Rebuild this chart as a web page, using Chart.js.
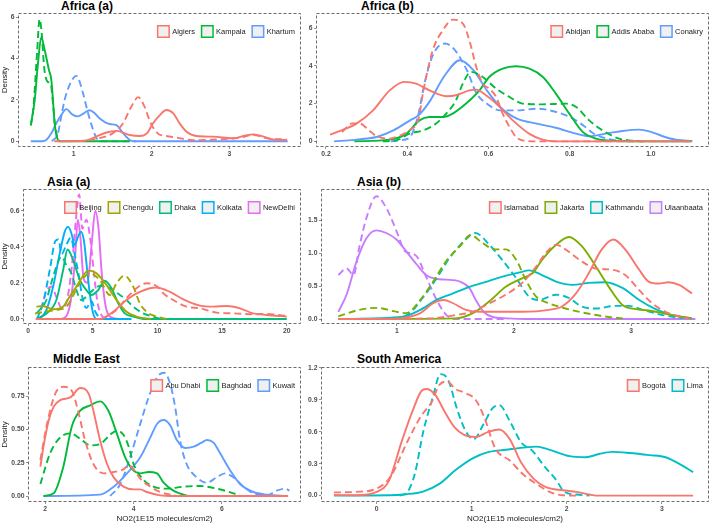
<!DOCTYPE html>
<html>
<head>
<meta charset="utf-8">
<title>NO2 density by city</title>
<script src="https://cdn.jsdelivr.net/npm/chart.js@4.4.1/dist/chart.umd.min.js"></script>
<style>
  body { margin: 0; background: #fff; }
  #stage { position: relative; width: 712px; height: 524px; overflow: hidden; font-family: "Liberation Sans", Arial, sans-serif; }
  #stage canvas { position: absolute; }
  .ttl { position: absolute; font-weight: bold; font-size: 12px; line-height: 12px; color: #000; white-space: nowrap; }
</style>
</head>
<body>
<div id="stage"></div>
<script>
// ---- Africa (a) ----
const africaACities = ["Algiers", "Kampala", "Khartum"];
const algiersSolid = [[0.75,0],[1.1,0.01],[1.2,0.08],[1.29,0.22],[1.42,0.42],[1.55,0.5],[1.72,0.3],[1.85,0.25],[1.94,0.38],[2.02,0.87],[2.11,1.27],[2.19,1.51],[2.28,1.35],[2.36,0.87],[2.45,0.46],[2.58,0.25],[2.79,0.22],[3.05,0.14],[3.18,0.25],[3.31,0.33],[3.44,0.22],[3.56,0.08],[3.74,0.06]];
const algiersDashed = [[1.05,0],[1.2,0.05],[1.335,0.15],[1.5,0.38],[1.635,0.87],[1.74,1.67],[1.83,2.13],[1.91,1.67],[1.99,0.87],[2.08,0.38],[2.19,0.25],[2.32,0.18],[2.53,0.05],[2.84,0.08],[3.14,0.18],[3.31,0.3],[3.48,0.14],[3.74,0.08]];
const kampalaSolid = [[0.45,0.8],[0.5,2.0],[0.54,3.7],[0.584,5.03],[0.627,4.42],[0.682,3.45],[0.713,2.97],[0.734,2.0],[0.755,0.87],[0.785,0.22],[0.811,0],[1.72,0]];
const kampalaDashed = [[0.45,0.75],[0.48,1.5],[0.5,2.5],[0.53,4.3],[0.562,5.9],[0.59,5.2],[0.62,3.6],[0.66,2.9],[0.708,2.72],[0.73,2.0],[0.76,0.8],[0.79,0.15],[0.82,0]];
const khartumSolid = [[0.45,0],[0.6,0],[0.648,0.06],[0.713,0.38],[0.777,0.87],[0.841,1.27],[0.906,1.55],[0.98,1.3],[1.056,1.2],[1.13,1.35],[1.206,1.5],[1.27,1.35],[1.335,1.1],[1.463,0.83],[1.549,0.78],[1.635,0.38],[1.72,0.06],[1.76,0],[3.75,0]];
const khartumDashed = [[0.72,0],[0.798,0.38],[0.84,1.19],[0.884,2.0],[0.948,2.72],[1.035,3.16],[1.12,2.32],[1.185,1.35],[1.25,0.55],[1.292,0.15],[1.34,0],[1.8,0]];
const africaAXTicks = [1, 2, 3];
const africaAXLabels = ["1", "2", "3"];
const africaAYTicks = [0, 2, 4, 6];
const africaAYLabels = ["0", "2", "4", "6"];

// ---- Africa (b) ----
const africaBCities = ["Abidjan", "Addis Ababa", "Conakry"];
const abidjanSolid = [[0.21,0.35],[0.24,0.6],[0.275,0.94],[0.316,1.64],[0.357,2.7],[0.393,3.15],[0.422,3.06],[0.455,2.7],[0.496,2.39],[0.52,2.44],[0.553,2.7],[0.57,2.74],[0.594,2.44],[0.619,2.0],[0.66,1.11],[0.7,0.41],[0.733,0.09],[0.766,0],[1.1,0]];
const abidjanDashed = [[0.24,0.5],[0.265,0.95],[0.284,0.94],[0.305,0.6],[0.325,0.27],[0.357,0.14],[0.381,0.3],[0.407,0.6],[0.428,1.2],[0.44,2.7],[0.463,4.83],[0.488,5.89],[0.512,6.45],[0.537,6.24],[0.553,5.36],[0.57,3.94],[0.586,3.06],[0.602,2.79],[0.619,2.35],[0.635,1.47],[0.652,0.76],[0.668,0.23],[0.684,0.05],[0.717,0],[1.1,0]];
const addisSolid = [[0.27,0],[0.357,0.09],[0.398,0.41],[0.43,1.11],[0.455,1.29],[0.488,1.29],[0.512,1.47],[0.545,2.0],[0.578,2.7],[0.602,3.41],[0.635,3.85],[0.668,3.98],[0.701,3.85],[0.734,3.41],[0.766,2.53],[0.799,1.47],[0.832,0.5],[0.865,0.14],[0.914,0.02],[1.1,0]];
const addisDashed = [[0.34,0],[0.373,0.05],[0.406,0.41],[0.439,0.58],[0.471,0.94],[0.496,1.47],[0.52,2.17],[0.537,3.06],[0.557,3.68],[0.586,3.41],[0.619,2.79],[0.652,2.35],[0.684,2.0],[0.733,1.96],[0.791,2.0],[0.816,1.82],[0.848,1.11],[0.881,0.58],[0.922,0.14],[0.947,0.05],[0.98,0]];
const conakrySolid = [[0.22,0],[0.27,0.08],[0.3,0.15],[0.325,0.23],[0.366,0.58],[0.407,1.11],[0.428,1.38],[0.457,2.17],[0.49,3.41],[0.53,4.3],[0.563,3.77],[0.596,2.7],[0.629,1.82],[0.67,1.2],[0.719,0.94],[0.766,0.72],[0.815,0.41],[0.848,0.27],[0.889,0.41],[0.93,0.55],[0.971,0.62],[0.996,0.53],[1.029,0.27],[1.061,0.09],[1.102,0.02]];
const conakryDashed = [[0.36,0],[0.38,0.05],[0.406,0.2],[0.426,1.29],[0.444,3.2],[0.465,4.65],[0.493,5.18],[0.514,4.92],[0.547,3.77],[0.571,2.53],[0.596,2.0],[0.629,1.64],[0.67,1.64],[0.719,1.73],[0.768,1.55],[0.8,1.29],[0.83,0.9],[0.86,0.4],[0.9,0.1],[0.95,0]];
const africaBXTicks = [0.2, 0.4, 0.6, 0.8, 1.0];
const africaBXLabels = ["0.2", "0.4", "0.6", "0.8", "1.0"];
const africaBYTicks = [0, 2, 4, 6];
const africaBYLabels = ["0", "2", "4", "6"];

// ---- Asia (a) ----
const asiaACities = ["Beijing", "Chengdu", "Dhaka", "Kolkata", "NewDelhi"];
const beijingSolid = [[0.6,0],[5.55,0],[6.58,0.04],[7.61,0.105],[8.64,0.15],[9.93,0.174],[10.97,0.15],[12.0,0.109],[13.29,0.074],[14.32,0.068],[15.35,0.072],[16.38,0.059],[17.4,0.031],[18.45,0.022],[20.0,0.013]];
const beijingDashed = [[0.6,0],[5.6,0],[6.06,0.013],[6.84,0.05],[7.61,0.115],[8.38,0.17],[9.16,0.198],[9.93,0.183],[10.45,0.142],[11.22,0.105],[12.25,0.068],[13.29,0.059],[14.58,0.035],[15.87,0.031],[17.4,0.026],[18.45,0.028],[20.0,0.017]];
const chengduSolid = [[0.65,0.068],[1.16,0.072],[1.94,0.054],[2.7,0.068],[3.22,0.124],[3.74,0.179],[4.51,0.262],[4.77,0.268],[5.29,0.253],[6.06,0.188],[6.84,0.105],[7.61,0.04],[8.38,0.013],[9.5,0]];
const chengduDashed = [[0.54,0.03],[1.3,0.04],[2.2,0.05],[2.97,0.068],[4.0,0.198],[4.77,0.253],[5.55,0.216],[6.32,0.133],[6.84,0.198],[7.45,0.24],[8.13,0.179],[8.64,0.087],[9.16,0.04],[9.93,0.013],[10.7,0]];
const dhakaSolid = [[0.65,0],[1.42,0.03],[2.19,0.105],[2.71,0.27],[3.05,0.385],[3.48,0.327],[4.0,0.216],[4.51,0.16],[4.9,0.133],[5.42,0.16],[5.93,0.212],[6.45,0.17],[6.97,0.087],[7.48,0.031],[8.13,0.013],[8.9,0],[20,0]];
const dhakaDashed = [[0.65,0.03],[1.42,0.105],[1.68,0.17],[2.19,0.29],[2.58,0.345],[2.95,0.3],[3.35,0.253],[3.74,0.16],[4.13,0.105],[4.51,0.124],[5.03,0.16],[5.55,0.183],[6.32,0.17],[7.1,0.133],[7.61,0.105],[8.13,0.068],[8.9,0.031],[9.67,0.013],[10.2,0]];
const kolkataSolid = [[0.9,0],[1.42,0.05],[1.94,0.18],[2.45,0.364],[2.84,0.484],[3.1,0.51],[3.35,0.475],[3.61,0.41],[3.87,0.456],[4.08,0.484],[4.31,0.438],[4.57,0.27],[4.77,0.142],[5.03,0.031],[5.29,0],[8,0]];
const kolkataDashed = [[0.7,0],[1.2,0.1],[1.7,0.28],[2.1,0.43],[2.35,0.44],[2.6,0.36],[2.9,0.4],[3.3,0.45],[3.6,0.36],[3.9,0.25],[4.2,0.12],[4.5,0.06],[4.9,0.1],[5.2,0.04],[5.6,0]];
const newDelhiSolid = [[2.6,0],[3.0,0.02],[3.3,0.1],[3.6,0.3],[3.85,0.55],[4.05,0.45],[4.3,0.22],[4.6,0.2],[4.9,0.4],[5.2,0.6],[5.45,0.5],[5.7,0.25],[6.0,0.07],[6.4,0.01],[7,0]];
const newDelhiDashed = [[1.0,0.05],[1.4,0.15],[1.8,0.18],[2.2,0.12],[2.6,0.06],[3.0,0.1],[3.4,0.3],[3.7,0.55],[3.95,0.69],[4.2,0.5],[4.5,0.55],[4.8,0.45],[5.1,0.25],[5.4,0.08],[5.8,0.01],[6.2,0]];
const asiaAXTicks = [0, 5, 10, 15, 20];
const asiaAXLabels = ["0", "5", "10", "15", "20"];
const asiaAYTicks = [0, 0.2, 0.4, 0.6];
const asiaAYLabels = ["0.0", "0.2", "0.4", "0.6"];

// ---- Asia (b) ----
const asiaBCities = ["Islamabad", "Jakarta", "Kathmandu", "Ulaanbaata"];
const islamabadSolid = [[0.5,0],[1.0,0.005],[1.1,0.03],[1.2,0.09],[1.31,0.24],[1.4,0.29],[1.48,0.24],[1.59,0.14],[1.71,0.11],[1.93,0.11],[2.07,0.11],[2.3,0.14],[2.41,0.19],[2.53,0.39],[2.64,0.7],[2.75,1.06],[2.85,1.21],[2.95,1.06],[3.07,0.75],[3.15,0.57],[3.24,0.54],[3.32,0.56],[3.41,0.52],[3.52,0.39]];
const islamabadDashed = [[0.5,0],[1.3,0.01],[1.5,0.06],[1.65,0.11],[1.79,0.24],[1.93,0.37],[2.07,0.55],[2.19,0.8],[2.27,1.0],[2.36,1.13],[2.44,1.06],[2.56,0.9],[2.7,0.77],[2.84,0.75],[2.95,0.67],[3.07,0.44],[3.18,0.24],[3.32,0.09],[3.49,0.01]];
const jakartaSolid = [[0.5,0],[1.5,0.01],[1.65,0.09],[1.79,0.27],[1.93,0.49],[2.07,0.62],[2.16,0.7],[2.24,0.9],[2.36,1.13],[2.47,1.25],[2.58,1.11],[2.7,0.8],[2.81,0.49],[2.93,0.21],[3.04,0.15],[3.15,0.13],[3.27,0.09],[3.38,0.05],[3.52,0.01]];
const jakartaDashed = [[0.5,0.04],[0.68,0.14],[0.83,0.17],[0.97,0.12],[1.08,0.09],[1.2,0.29],[1.31,0.57],[1.42,0.88],[1.54,1.11],[1.63,1.28],[1.73,1.16],[1.84,1.06],[1.93,1.06],[2.02,0.9],[2.1,0.6],[2.19,0.34],[2.3,0.24],[2.44,0.16],[2.64,0.08],[2.81,0.03],[2.93,0.01]];
const kathmanduSolid = [[0.5,0],[1.05,0.035],[1.2,0.14],[1.34,0.29],[1.48,0.39],[1.62,0.49],[1.77,0.57],[1.91,0.65],[2.05,0.71],[2.13,0.74],[2.24,0.67],[2.36,0.57],[2.5,0.52],[2.64,0.55],[2.78,0.56],[2.93,0.47],[3.07,0.29],[3.21,0.15],[3.35,0.06],[3.52,0.01]];
const kathmanduDashed = [[0.5,0],[1.0,0.01],[1.11,0.09],[1.22,0.32],[1.34,0.62],[1.45,0.93],[1.57,1.18],[1.67,1.31],[1.79,1.13],[1.9,0.9],[2.02,0.62],[2.13,0.34],[2.21,0.29],[2.36,0.37],[2.47,0.32],[2.58,0.19],[2.7,0.16],[2.87,0.2],[2.98,0.2],[3.1,0.14],[3.27,0.06],[3.44,0.01]];
const ulaanSolid = [[0.5,0.11],[0.57,0.37],[0.656,0.88],[0.74,1.23],[0.826,1.35],[0.91,1.31],[0.997,1.21],[1.08,1.03],[1.17,0.83],[1.25,0.67],[1.34,0.61],[1.42,0.6],[1.54,0.57],[1.62,0.47],[1.68,0.27],[1.74,0.11],[1.82,0.03],[1.94,0.01],[2.1,0],[3.55,0]];
const ulaanDashed = [[0.5,0.67],[0.57,0.77],[0.63,0.67],[0.68,1.1],[0.74,1.54],[0.826,1.87],[0.91,1.69],[0.997,1.34],[1.07,1.03],[1.125,1.0],[1.18,0.93],[1.22,0.77],[1.28,0.52],[1.34,0.29],[1.4,0.11],[1.45,0.02],[1.5,0],[1.95,0]];
const asiaBXTicks = [1, 2, 3];
const asiaBXLabels = ["1", "2", "3"];
const asiaBYTicks = [0, 0.5, 1.0, 1.5];
const asiaBYLabels = ["0.0", "0.5", "1.0", "1.5"];

// ---- Middle East ----
const midEastCities = ["Abu Dhabi", "Baghdad", "Kuwait"];
const abuDhabiSolid = [[1.89,0.22],[1.96,0.37],[2.08,0.57],[2.19,0.67],[2.34,0.72],[2.57,0.74],[2.79,0.81],[2.98,0.77],[3.09,0.64],[3.24,0.42],[3.4,0.24],[3.55,0.14],[3.77,0.07],[4.0,0.05],[4.15,0.05],[4.3,0.03],[4.6,0.005],[4.9,0],[7.5,0]];
const abuDhabiDashed = [[1.89,0.27],[2.04,0.54],[2.23,0.77],[2.41,0.82],[2.6,0.79],[2.75,0.63],[2.9,0.42],[3.09,0.24],[3.32,0.17],[3.55,0.18],[3.77,0.2],[3.89,0.23],[4.0,0.2],[4.15,0.13],[4.38,0.07],[4.6,0.03],[4.83,0.01],[5.0,0]];
const baghdadSolid = [[1.96,0],[2.19,0.02],[2.41,0.22],[2.6,0.52],[2.79,0.64],[3.02,0.68],[3.24,0.71],[3.43,0.64],[3.62,0.47],[3.81,0.29],[4.0,0.19],[4.15,0.17],[4.34,0.18],[4.53,0.17],[4.68,0.1],[4.9,0.04],[5.13,0.01],[5.25,0]];
const baghdadDashed = [[1.89,0.09],[2.11,0.32],[2.34,0.44],[2.57,0.47],[2.79,0.43],[3.02,0.38],[3.24,0.39],[3.47,0.46],[3.62,0.49],[3.77,0.46],[3.89,0.37],[4.0,0.24],[4.23,0.12],[4.45,0.07],[4.75,0.055],[5.13,0.07],[5.51,0.075],[5.88,0.055],[6.26,0.02],[6.41,0]];
const kuwaitSolid = [[1.96,0],[3.24,0.01],[3.55,0.07],[3.85,0.17],[4.15,0.29],[4.38,0.44],[4.53,0.54],[4.68,0.57],[4.83,0.53],[4.98,0.42],[5.17,0.36],[5.36,0.37],[5.54,0.4],[5.66,0.42],[5.81,0.4],[5.96,0.32],[6.19,0.19],[6.41,0.09],[6.71,0.03],[7.02,0.01],[7.47,0]];
const kuwaitDashed = [[3.47,0],[3.7,0.09],[3.92,0.29],[4.15,0.54],[4.34,0.74],[4.53,0.89],[4.69,0.925],[4.83,0.84],[4.94,0.67],[5.05,0.42],[5.2,0.24],[5.43,0.14],[5.66,0.1],[5.88,0.14],[6.07,0.17],[6.26,0.14],[6.49,0.07],[6.71,0.02],[7.02,0.005],[7.24,0.04],[7.43,0.055],[7.53,0.04]];
const midEastXTicks = [2, 4, 6];
const midEastXLabels = ["2", "4", "6"];
const midEastYTicks = [0, 0.25, 0.5, 0.75];
const midEastYLabels = ["0.00", "0.25", "0.50", "0.75"];

// ---- South America ----
const southAmCities = ["Bogotá", "Lima"];
const bogotaSolid = [[-0.45,0.005],[-0.22,0.003],[0,0.035],[0.13,0.14],[0.26,0.5],[0.38,0.8],[0.48,0.99],[0.53,1.0],[0.62,0.94],[0.72,0.78],[0.82,0.64],[0.92,0.57],[1.04,0.55],[1.18,0.6],[1.29,0.62],[1.4,0.53],[1.52,0.31],[1.65,0.16],[1.78,0.08],[1.96,0.05],[2.1,0.035],[2.24,0.01],[2.31,0],[3.33,0]];
const bogotaDashed = [[-0.45,0.03],[-0.22,0.035],[0,0.066],[0.14,0.17],[0.33,0.52],[0.47,0.75],[0.58,0.88],[0.66,1.04],[0.74,1.07],[0.83,1.0],[0.94,0.96],[1.04,0.9],[1.13,0.74],[1.25,0.44],[1.4,0.33],[1.54,0.2],[1.68,0.11],[1.82,0.035],[1.96,0.003],[2.1,0]];
const limaSolid = [[-0.45,0],[0.13,0.003],[0.31,0.013],[0.48,0.035],[0.66,0.11],[0.83,0.24],[1.01,0.35],[1.18,0.41],[1.36,0.43],[1.54,0.45],[1.68,0.46],[1.82,0.43],[2.03,0.37],[2.2,0.36],[2.34,0.39],[2.48,0.41],[2.66,0.4],[2.87,0.38],[3.04,0.36],[3.18,0.3],[3.33,0.22]];
const limaDashed = [[0.24,0],[0.32,0.03],[0.4,0.2],[0.49,0.6],[0.59,0.92],[0.67,1.14],[0.75,1.09],[0.85,0.8],[0.94,0.6],[1.02,0.53],[1.13,0.68],[1.22,0.82],[1.29,0.85],[1.4,0.7],[1.52,0.5],[1.64,0.42],[1.76,0.28],[1.89,0.145],[1.97,0.04],[2.1,0.01],[2.24,0]];
const southAmXTicks = [0, 1, 2, 3];
const southAmXLabels = ["0", "1", "2", "3"];
const southAmYTicks = [0, 0.3, 0.6, 0.9, 1.2];
const southAmYLabels = ["0.0", "0.3", "0.6", "0.9", "1.2"];

// ggplot default hue palettes
const hue2 = ["#F8766D", "#00BFC4"];
const hue3 = ["#F8766D", "#00BA38", "#619CFF"];
const hue4 = ["#F8766D", "#7CAE00", "#00BFC4", "#C77CFF"];
const hue5 = ["#F8766D", "#A3A500", "#00BF7D", "#00B0F6", "#E76BF3"];

const FONT = '"Liberation Sans", Arial, sans-serif';

const panels = [
    { title: "Africa (a)", titleX: 61, titleY: 6, box: [18, 13, 301, 147], col: 0, row: 0,
      xMin: 0.285, xMax: 3.92, yMin: -0.28, yMax: 6.2,
      xTicks: africaAXTicks, xLabels: africaAXLabels, yTicks: africaAYTicks, yLabels: africaAYLabels,
      cities: africaACities, colors: hue3,
      solid: [algiersSolid, kampalaSolid, khartumSolid], dashed: [algiersDashed, kampalaDashed, khartumDashed] },
    { title: "Africa (b)", titleX: 361, titleY: 6, box: [316, 13, 709, 147], col: 1, row: 0,
      xMin: 0.1755, xMax: 1.143, yMin: -0.3, yMax: 6.8,
      xTicks: africaBXTicks, xLabels: africaBXLabels, yTicks: africaBYTicks, yLabels: africaBYLabels,
      cities: africaBCities, colors: hue3,
      solid: [abidjanSolid, addisSolid, conakrySolid], dashed: [abidjanDashed, addisDashed, conakryDashed] },
    { title: "Asia (a)", titleX: 47, titleY: 182, box: [23, 189, 301, 324], col: 0, row: 1,
      xMin: -0.39, xMax: 21.1, yMin: -0.028, yMax: 0.72,
      xTicks: asiaAXTicks, xLabels: asiaAXLabels, yTicks: asiaAYTicks, yLabels: asiaAYLabels,
      cities: asiaACities, colors: hue5,
      solid: [beijingSolid, chengduSolid, dhakaSolid, kolkataSolid, newDelhiSolid],
      dashed: [beijingDashed, chengduDashed, dhakaDashed, kolkataDashed, newDelhiDashed] },
    { title: "Asia (b)", titleX: 357, titleY: 182, box: [321, 189, 709, 324], col: 1, row: 1,
      xMin: 0.352, xMax: 3.666, yMin: -0.076, yMax: 1.98,
      xTicks: asiaBXTicks, xLabels: asiaBXLabels, yTicks: asiaBYTicks, yLabels: asiaBYLabels,
      cities: asiaBCities, colors: hue4,
      solid: [islamabadSolid, jakartaSolid, kathmanduSolid, ulaanSolid],
      dashed: [islamabadDashed, jakartaDashed, kathmanduDashed, ulaanDashed] },
    { title: "Middle East", titleX: 53, titleY: 359, box: [28, 367, 301, 502], col: 0, row: 2,
      xMin: 1.61, xMax: 7.79, yMin: -0.045, yMax: 0.968,
      xTicks: midEastXTicks, xLabels: midEastXLabels, yTicks: midEastYTicks, yLabels: midEastYLabels,
      cities: midEastCities, colors: hue3,
      solid: [abuDhabiSolid, baghdadSolid, kuwaitSolid], dashed: [abuDhabiDashed, baghdadDashed, kuwaitDashed] },
    { title: "South America", titleX: 357, titleY: 359, box: [321, 367, 709, 502], col: 1, row: 2,
      xMin: -0.586, xMax: 3.497, yMin: -0.06, yMax: 1.207,
      xTicks: southAmXTicks, xLabels: southAmXLabels, yTicks: southAmYTicks, yLabels: southAmYLabels,
      cities: southAmCities, colors: hue2,
      solid: [bogotaSolid, limaSolid], dashed: [bogotaDashed, limaDashed] }
];

// dashed panel border like the ggplot theme
const dashedFrame = {
    id: "dashedFrame",
    beforeDatasetsDraw(chart) {
        const { ctx, chartArea: a } = chart;
        ctx.save();
        ctx.strokeStyle = "#6b6b6b";
        ctx.lineWidth = 1;
        ctx.setLineDash([3, 2]);
        ctx.strokeRect(Math.round(a.left) + 0.5, Math.round(a.top) + 0.5,
            Math.round(a.right - a.left) - 1, Math.round(a.bottom - a.top) - 1);
        ctx.restore();
    }
};

// legend inside the panel, top right, one key per city (solid series only)
const cityKey = {
    id: "cityKey",
    afterDatasetsDraw(chart) {
        const { ctx, chartArea: a } = chart;
        const items = chart.data.datasets.filter((d) => !d.isDashed);
        const box = 11.5, gapText = 3, gapItem = 6.5;
        ctx.save();
        ctx.font = "7.5px " + FONT;
        const widths = items.map((d) => box + gapText + ctx.measureText(d.label).width);
        const total = widths.reduce((s, w) => s + w, 0) + gapItem * (items.length - 1);
        let x = a.right - 6 - total;
        const cy = a.top + 18.5;
        items.forEach((d, i) => {
            ctx.setLineDash([]);
            ctx.fillStyle = "#f0f0f0";
            ctx.fillRect(x, cy - box / 2, box, box);
            ctx.strokeStyle = d.borderColor;
            ctx.lineWidth = 1.5;
            ctx.strokeRect(x, cy - box / 2, box, box);
            ctx.fillStyle = "#222";
            ctx.textAlign = "left";
            ctx.textBaseline = "middle";
            ctx.fillText(d.label, x + box + gapText, cy + 0.5);
            x += widths[i] + gapItem;
        });
        ctx.restore();
    }
};

const stage = document.getElementById("stage");

panels.forEach((p) => {
    const [l, t, r, b] = p.box;
    const cx = p.col === 0 ? 0 : l - 16;
    const cy = t - 8;
    const bottomRow = p.row === 2;
    const canvasBottom = bottomRow ? 524 : b + 13;
    const cw = r - cx + 4;
    const ch = canvasBottom - cy;
    const yw = l - cx;
    const xh = canvasBottom - b;

    const title = document.createElement("div");
    title.className = "ttl";
    title.textContent = p.title;
    title.style.left = p.titleX + "px";
    title.style.top = (p.titleY - 6) + "px";
    stage.appendChild(title);

    const canvas = document.createElement("canvas");
    canvas.width = cw;
    canvas.height = ch;
    canvas.style.left = cx + "px";
    canvas.style.top = cy + "px";
    canvas.style.width = cw + "px";
    canvas.style.height = ch + "px";
    stage.appendChild(canvas);

    const datasets = [];
    p.cities.forEach((city, i) => {
        datasets.push({
            label: city,
            data: p.solid[i].map(([x, y]) => ({ x, y })),
            borderColor: p.colors[i],
            borderWidth: 1.9,
            isDashed: false
        });
        datasets.push({
            label: city + " (dashed)",
            data: p.dashed[i].map(([x, y]) => ({ x, y })),
            borderColor: p.colors[i],
            borderWidth: 1.9,
            borderDash: [7, 4],
            isDashed: true
        });
    });

    const tickFont = { size: 6.8, weight: "bold", family: FONT };

    new Chart(canvas, {
        type: "line",
        data: { datasets },
        options: {
            responsive: false,
            animation: false,
            devicePixelRatio: 1,
            layout: { padding: { top: 8, right: 4, left: 0, bottom: 0 } },
            elements: {
                point: { radius: 0 },
                line: { fill: false, cubicInterpolationMode: "monotone" }
            },
            plugins: { legend: { display: false }, tooltip: { enabled: false } },
            scales: {
                x: {
                    type: "linear",
                    min: p.xMin,
                    max: p.xMax,
                    afterBuildTicks: (s) => { s.ticks = p.xTicks.map((v) => ({ value: v })); },
                    afterFit: (s) => { s.height = xh; },
                    ticks: {
                        autoSkip: false, maxRotation: 0, padding: 1.5,
                        font: tickFont, color: "#4d4d4d",
                        callback: (v, i) => p.xLabels[i]
                    },
                    grid: { drawOnChartArea: false, drawTicks: true, tickLength: 2, color: "#444", lineWidth: 0.6 },
                    border: { display: false },
                    title: {
                        display: bottomRow, text: "NO2(1E15 molecules/cm2)",
                        font: { size: 8, family: FONT }, color: "#222", padding: 0
                    }
                },
                y: {
                    min: p.yMin,
                    max: p.yMax,
                    afterBuildTicks: (s) => { s.ticks = p.yTicks.map((v) => ({ value: v })); },
                    afterFit: (s) => { s.width = yw; },
                    ticks: {
                        padding: 1.5, font: tickFont, color: "#4d4d4d",
                        callback: (v, i) => p.yLabels[i]
                    },
                    grid: { drawOnChartArea: false, drawTicks: true, tickLength: 2, color: "#444", lineWidth: 0.6 },
                    border: { display: false },
                    title: {
                        display: p.col === 0, text: "Density",
                        font: { size: 8, family: FONT }, color: "#222", padding: 0
                    }
                }
            }
        },
        plugins: [dashedFrame, cityKey]
    });
});
</script>
</body>
</html>
